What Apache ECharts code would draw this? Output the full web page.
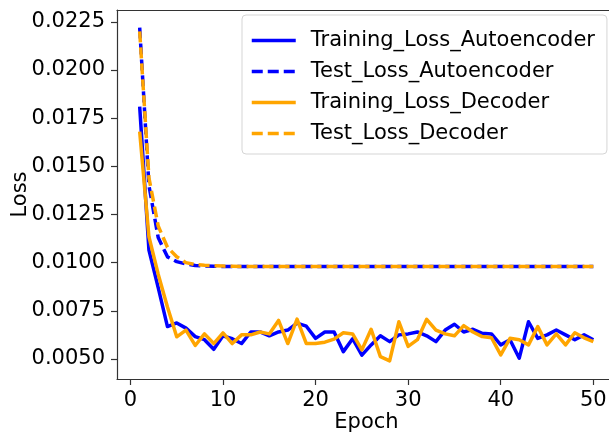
<!DOCTYPE html>
<html>
<head>
<meta charset="utf-8">
<script src="https://cdn.jsdelivr.net/npm/echarts@6/dist/echarts.min.js"></script>
<style>
html,body{margin:0;padding:0;background:#fff;}
#chart{width:609px;height:437px;}
</style>
</head>
<body>
<div id="chart"></div>
<script>
const epochs = [];
for (let i = 1; i <= 50; i++) epochs.push(i);

const trainLossAE = [
  0.0181, 0.01065, 0.0087, 0.00668, 0.00687, 0.0066, 0.00616, 0.0060, 0.0055, 0.0062,
  0.00605, 0.0058, 0.0064, 0.0064, 0.0062, 0.0064, 0.0065, 0.00686, 0.0067, 0.00607,
  0.0064, 0.0064, 0.00538, 0.00605, 0.0052, 0.00573, 0.0062, 0.0059, 0.00625, 0.0063,
  0.0064, 0.0062, 0.0059, 0.0065, 0.0068, 0.0064, 0.00654, 0.00633, 0.0063, 0.00573,
  0.0060, 0.00504, 0.00693, 0.00607, 0.00625, 0.0065, 0.00625, 0.0060, 0.00625, 0.0060
];
const testLossAE = [
  0.0222, 0.0140, 0.0113, 0.0103, 0.01005, 0.00993, 0.00985, 0.00982, 0.00981, 0.0098,
  0.0098, 0.0098, 0.0098, 0.0098, 0.0098, 0.0098, 0.0098, 0.0098, 0.0098, 0.0098,
  0.0098, 0.0098, 0.0098, 0.0098, 0.0098, 0.0098, 0.0098, 0.0098, 0.0098, 0.0098,
  0.0098, 0.0098, 0.0098, 0.0098, 0.0098, 0.0098, 0.0098, 0.0098, 0.0098, 0.0098,
  0.0098, 0.0098, 0.0098, 0.0098, 0.0098, 0.0098, 0.0098, 0.0098, 0.0098, 0.0098
];
const trainLossDec = [
  0.0168, 0.01134, 0.0094, 0.0077, 0.00615, 0.0065, 0.0057, 0.0063, 0.0058, 0.00635,
  0.0058, 0.00625, 0.00625, 0.0064, 0.0063, 0.0070, 0.0058, 0.00707, 0.0058, 0.0058,
  0.00587, 0.00603, 0.00636, 0.0063, 0.00547, 0.00654, 0.00512, 0.0049, 0.00693, 0.00565,
  0.0060, 0.00706, 0.0065, 0.0063, 0.0062, 0.00673, 0.0064, 0.00616, 0.0061, 0.00521,
  0.00607, 0.0060, 0.00573, 0.00668, 0.00573, 0.0063, 0.00573, 0.00636, 0.0061, 0.0059
];
const testLossDec = [
  0.0220, 0.0144, 0.0119, 0.0108, 0.0103, 0.0100, 0.0099, 0.00986, 0.00984, 0.00982,
  0.00981, 0.0098, 0.0098, 0.0098, 0.0098, 0.0098, 0.0098, 0.0098, 0.0098, 0.0098,
  0.0098, 0.0098, 0.0098, 0.0098, 0.0098, 0.0098, 0.0098, 0.0098, 0.0098, 0.0098,
  0.0098, 0.0098, 0.0098, 0.0098, 0.0098, 0.0098, 0.0098, 0.0098, 0.0098, 0.0098,
  0.0098, 0.0098, 0.0098, 0.0098, 0.0098, 0.0098, 0.0098, 0.0098, 0.0098, 0.0098
];

const xTicks = [0, 10, 20, 30, 40, 50];
const yTicks = [0.0050, 0.0075, 0.0100, 0.0125, 0.0150, 0.0175, 0.0200, 0.0225];

const seriesNames = ['Training_Loss_Autoencoder', 'Test_Loss_Autoencoder', 'Training_Loss_Decoder', 'Test_Loss_Decoder'];
const seriesColors = ['#0000ff', '#0000ff', '#ffa500', '#ffa500'];
const seriesDashed = [false, true, false, true];
const seriesValues = [trainLossAE, testLossAE, trainLossDec, testLossDec];

const FONT = 'DejaVu Sans';
const FS = 21;
const chart = echarts.init(document.getElementById('chart'), null, {renderer: 'canvas'});

const series = seriesNames.map((name, k) => ({
  name: name,
  type: 'line',
  xAxisIndex: 0,
  symbol: 'none',
  showSymbol: false,
  data: epochs.map((e, i) => [e, seriesValues[k][i]]),
  lineStyle: {
    color: seriesColors[k],
    width: 3.5,
    type: seriesDashed[k] ? [11, 5] : 'solid',
    cap: 'butt',
    join: 'round'
  },
  itemStyle: {color: seriesColors[k]},
  animation: false
}));

chart.setOption({
  animation: false,
  backgroundColor: '#fff',
  textStyle: {fontFamily: FONT},
  grid: {
    left: 117, top: 10, width: 499, bottom: 58,
    outerBoundsMode: 'none',
    show: false,
    containLabel: false
  },
  legend: {
    orient: 'vertical',
    left: 242, top: 15,
    padding: [15, 12, 10, 8],
    itemGap: 10,
    itemWidth: 44, itemHeight: 14,
    backgroundColor: 'rgba(255,255,255,0.8)',
    borderColor: '#d5d5d5', borderWidth: 1, borderRadius: 4,
    itemStyle: {opacity: 0},
    lineStyle: {width: 3.5},
    textStyle: {fontFamily: FONT, fontSize: FS, color: '#000', padding: [0, 0, 0, 10]},
    data: seriesNames
  },
  xAxis: [{
    type: 'value',
    position: 'bottom',
    min: -1.45, max: 52.45,
    name: 'Epoch', nameLocation: 'middle', nameGap: 33,
    nameMoveOverlap: false,
    nameTextStyle: {fontFamily: FONT, fontSize: FS, color: '#000'},
    axisLine: {show: true, onZero: false, lineStyle: {color: '#333', width: 1.2}},
    axisTick: {show: true, length: 6, inside: false, customValues: xTicks, lineStyle: {color: '#333', width: 1.2}},
    axisLabel: {customValues: xTicks, fontFamily: FONT, fontSize: FS, color: '#000', margin: 11,
      formatter: v => String(Math.round(v))},
    splitLine: {show: false}
  }, {
    type: 'value',
    position: 'top',
    min: -1.45, max: 52.45,
    axisLine: {show: true, onZero: false, lineStyle: {color: '#333', width: 1.2}},
    axisTick: {show: false},
    axisLabel: {show: false},
    splitLine: {show: false}
  }],
  yAxis: {
    type: 'value',
    min: 0.00396, max: 0.02311,
    name: 'Loss', nameLocation: 'middle', nameGap: 86,
    nameMoveOverlap: false,
    nameTextStyle: {fontFamily: FONT, fontSize: FS, color: '#000'},
    axisLine: {show: true, onZero: false, lineStyle: {color: '#333', width: 1.2}},
    axisTick: {show: true, length: 6, inside: false, customValues: yTicks, lineStyle: {color: '#333', width: 1.2}},
    axisLabel: {customValues: yTicks, fontFamily: FONT, fontSize: FS, color: '#000', margin: 12,
      formatter: v => v.toFixed(4)},
    splitLine: {show: false}
  },
  series: series
});
</script>
</body>
</html>
